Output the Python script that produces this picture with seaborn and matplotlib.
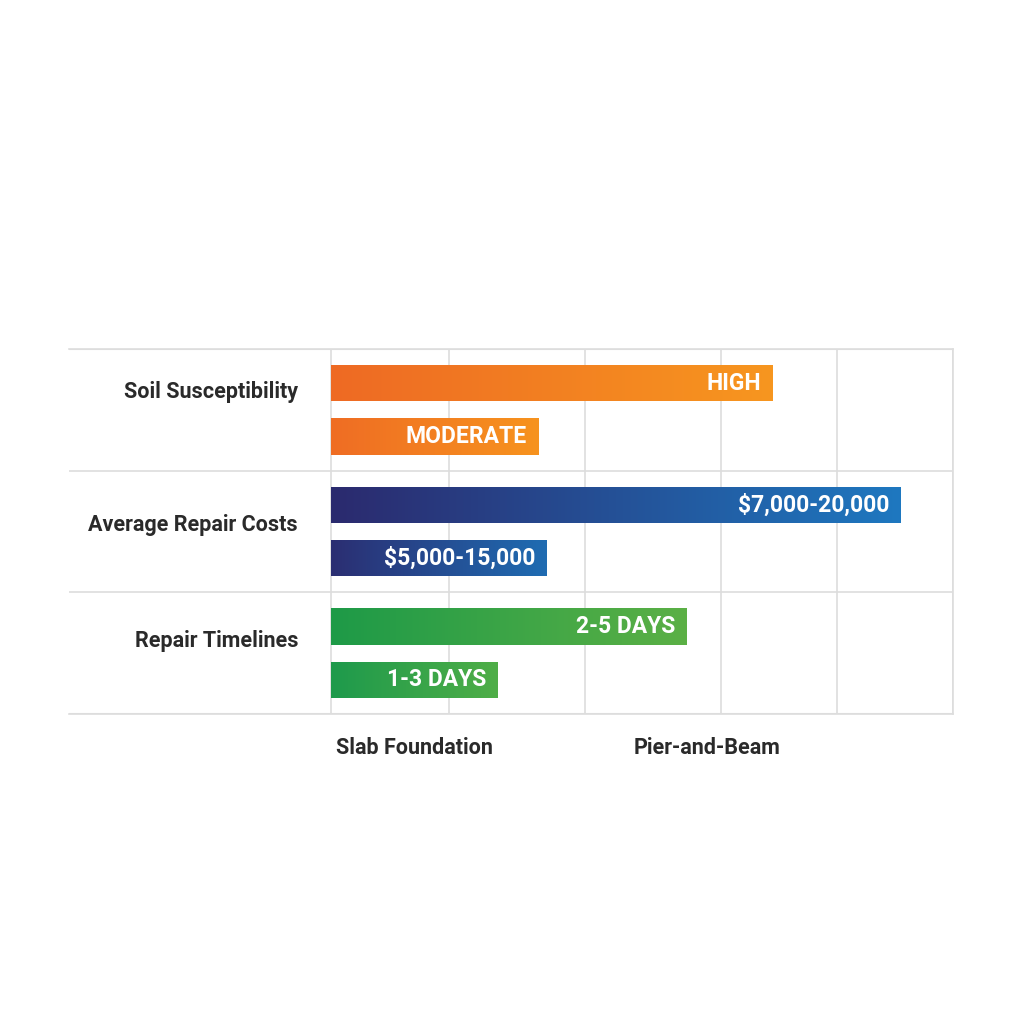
import numpy as np
import pandas as pd
import matplotlib
matplotlib.use("Agg")
import matplotlib.pyplot as plt
import seaborn as sns
from matplotlib.colors import LinearSegmentedColormap

categories = ["Soil Susceptibility", "Average Repair Costs", "Repair Timelines"]
series = ["Slab Foundation", "Pier-and-Beam"]
slab_values = [71.0, 91.6, 57.2]
pier_values = [33.3, 34.6, 26.8]
slab_labels = ["HIGH", "$7,000-20,000", "2-5 DAYS"]
pier_labels = ["MODERATE", "$5,000-15,000", "1-3 DAYS"]
grid_ticks = [0, 19.0, 40.8, 62.7, 81.4, 100]

gradients = [
    [("#EE6A24", "#F7961F"), ("#EF6D24", "#F7931E")],
    [("#2B2A6E", "#1E78C0"), ("#2B2E72", "#1F6CB2")],
    [("#1E9A48", "#5BB045"), ("#1E9A4C", "#4FAE47")],
]

df = pd.DataFrame({
    "category": categories * 2,
    "series": [series[0]] * 3 + [series[1]] * 3,
    "value": slab_values + pier_values,
})

sns.set_theme(style="white")
plt.rcParams['font.family'] = ['Roboto', 'DejaVu Sans']

fig = plt.figure(figsize=(10.24, 10.24), dpi=100)
ax = fig.add_axes([69/1024, 1 - 714/1024, (953-69)/1024, (714-349)/1024])
sns.barplot(data=df, y="category", x="value", hue="series", order=categories,
            hue_order=series, orient="h", width=0.88, gap=0.32, legend=False,
            ax=ax, color="white")
xmin = -262/622*100
ax.set_xlim(xmin, 100)
ax.set_ylim(2.5, -0.5)

patches = sorted(ax.patches, key=lambda p: p.get_y())
for i, p in enumerate(patches):
    cat = i // 2
    sub = i % 2
    c0, c1 = gradients[cat][sub]
    cmap = LinearSegmentedColormap.from_list("g", [c0, c1])
    x0, y0, w, h = p.get_x(), p.get_y(), p.get_width(), p.get_height()
    im = ax.imshow(np.linspace(0, 1, 256).reshape(1, -1), cmap=cmap, aspect="auto",
                   extent=[x0, x0 + w, y0 + h, y0], zorder=3)
    im.set_clip_path(p)
    p.set_edgecolor("none")
    lab = (slab_labels if sub == 0 else pier_labels)[cat]
    ax.text(x0 + w - 1.8, y0 + h / 2, lab, ha="right", va="center", color="white",
            fontsize=16.5, fontweight="bold", zorder=4)

ax.set_ylim(2.5, -0.5)
ax.set_xlim(xmin, 100)
for t in grid_ticks:
    ax.axvline(t, color="#DDDDDD", lw=1.2, zorder=1)
for yb in [0.5, 1.5]:
    ax.axhline(yb, color="#DDDDDD", lw=1.2, zorder=1)
for s in ax.spines.values():
    s.set_color("#DDDDDD")
    s.set_linewidth(1.2)
ax.spines["left"].set_visible(False)
ax.axhline(-0.5, color="#DDDDDD", lw=1.5)
ax.axhline(2.5, color="#DDDDDD", lw=1.5)

ax.set_yticks([])
ax.set_xticks([])
ax.set_xlabel("")
ax.set_ylabel("")
label_offsets = [-0.15, -0.05, -0.1]
for i, c in enumerate(categories):
    ax.text(-5.3, i + label_offsets[i], c, ha="right", va="center", fontsize=15.5,
            fontweight="bold", color="#2A2A2A")

fig.text(414/1024, 1 - 748/1024, series[0], ha="center", va="center",
         fontsize=15.5, fontweight="bold", color="#2A2A2A")
fig.text(707/1024, 1 - 748/1024, series[1], ha="center", va="center",
         fontsize=15.5, fontweight="bold", color="#2A2A2A")

fig.savefig("out.png", dpi=100, facecolor="white")
